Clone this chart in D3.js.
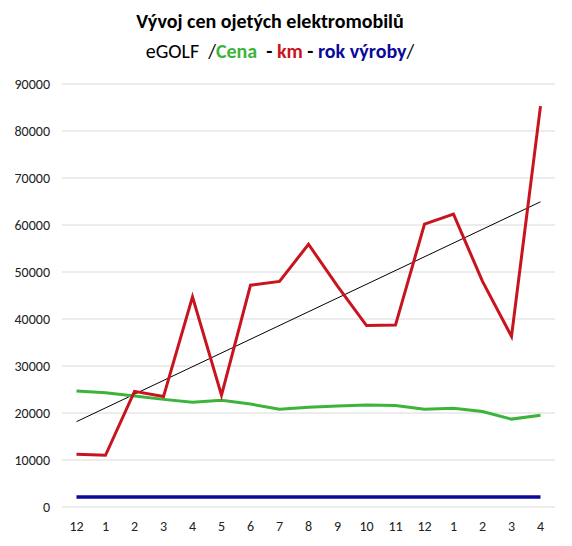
<!DOCTYPE html>
<html><head><meta charset="utf-8">
<script src="https://cdn.jsdelivr.net/npm/d3@7"></script>
<style>body{margin:0;background:#fff;font-family:Calibri,Carlito,"Liberation Sans",Arial,sans-serif}</style>
</head><body><div id="chart"></div>
<script>
var months = ["12","1","2","3","4","5","6","7","8","9","10","11","12","1","2","3","4"];
var km = [11200,11000,24600,23500,44700,23800,47200,48000,55900,47000,38600,38700,60200,62300,48000,36300,85300];
var cena = [24700,24300,23600,22900,22300,22700,21900,20800,21200,21500,21700,21600,20800,21000,20300,18700,19500];
var rok = [2150,2150,2150,2150,2150,2150,2150,2150,2150,2150,2150,2150,2150,2150,2150,2150,2150];
var yTicks = [0,10000,20000,30000,40000,50000,60000,70000,80000,90000];

var W = 572, H = 546;
var margin = {top: 84, right: 17, bottom: 39, left: 62};
var width = W - margin.left - margin.right, height = H - margin.top - margin.bottom;

var svg = d3.select("#chart").append("svg").attr("width", W).attr("height", H)
  .style("font-family", "Calibri,Carlito,'Liberation Sans',Arial,sans-serif");
var g = svg.append("g").attr("transform", "translate(" + margin.left + "," + margin.top + ")");

var x = d3.scaleBand().domain(d3.range(months.length)).range([0, width]);
var y = d3.scaleLinear().domain([0, 90000]).range([height, 0]);
var cx = function(i) { return x(i) + x.bandwidth() / 2; };

// gridlines
g.selectAll(".grid").data(yTicks).enter().append("line")
  .attr("x1", 0).attr("x2", width)
  .attr("y1", d => y(d)).attr("y2", d => y(d))
  .attr("stroke", "#d9d9d9").attr("stroke-width", 1);

g.selectAll(".ylab").data(yTicks).enter().append("text")
  .attr("x", -12).attr("y", d => y(d)).attr("dy", "0.35em")
  .attr("text-anchor", "end").style("font-size", "14px").attr("fill", "#222")
  .text(d => d);

g.selectAll(".xlab").data(months).enter().append("text")
  .attr("x", (d, i) => cx(i)).attr("y", height + 24)
  .attr("text-anchor", "middle").style("font-size", "14px").attr("fill", "#222")
  .text(d => d);

var line = d3.line().x((d, i) => cx(i)).y(d => y(d));

// linear trend of km
var n = km.length, xs = d3.range(n);
var mx = d3.mean(xs), my = d3.mean(km);
var slope = d3.sum(xs, i => (i - mx) * (km[i] - my)) / d3.sum(xs, i => (i - mx) * (i - mx));
var icpt = my - slope * mx;
g.append("line")
  .attr("x1", cx(0)).attr("y1", y(icpt))
  .attr("x2", cx(n - 1)).attr("y2", y(icpt + slope * (n - 1)))
  .attr("stroke", "#000").attr("stroke-width", 1);

g.append("path").datum(rok).attr("d", line).attr("fill", "none").attr("stroke", "#0a0a9a").attr("stroke-width", 3.5);
g.append("path").datum(cena).attr("d", line).attr("fill", "none").attr("stroke", "#3cb43c").attr("stroke-width", 3);
g.append("path").datum(km).attr("d", line).attr("fill", "none").attr("stroke", "#c8141e").attr("stroke-width", 3);

// titles
svg.append("text").attr("x", 270).attr("y", 28).attr("text-anchor", "middle")
  .style("font-size", "20px").style("font-weight", "bold").text("Vývoj cen ojetých elektromobilů");
var t2 = svg.append("text").attr("x", 280).attr("y", 58).attr("text-anchor", "middle")
  .style("font-size", "20px").style("white-space", "pre");
t2.append("tspan").attr("fill", "#000").text("eGOLF  /");
t2.append("tspan").attr("fill", "#3cb43c").style("font-weight", "bold").text("Cena");
t2.append("tspan").attr("fill", "#000").style("font-weight", "bold").text("  - ");
t2.append("tspan").attr("fill", "#c8141e").style("font-weight", "bold").text("km");
t2.append("tspan").attr("fill", "#000").style("font-weight", "bold").text(" - ");
t2.append("tspan").attr("fill", "#0a0a9a").style("font-weight", "bold").text("rok výroby");
t2.append("tspan").attr("fill", "#000").text("/");
</script></body></html>
